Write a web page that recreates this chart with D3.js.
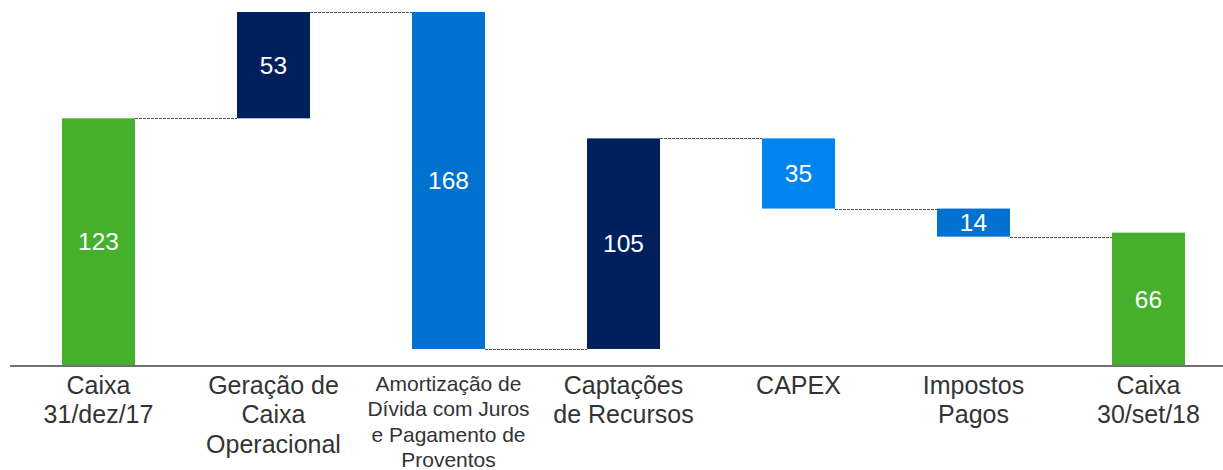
<!DOCTYPE html>
<html>
<head>
<meta charset="utf-8">
<script src="https://d3js.org/d3.v7.min.js"></script>
<style>
  body { margin: 0; background: #fff; font-family: "Liberation Sans", Arial, sans-serif; }
  svg { display: block; }
</style>
</head>
<body>
<script>
// categorias (quebra de linha com \n)
var categories = ["Caixa\n31/dez/17", "Geração de\nCaixa\nOperacional",
  "Amortização de\nDívida com Juros\ne Pagamento de\nProventos",
  "Captações\nde Recursos", "CAPEX", "Impostos\nPagos", "Caixa\n30/set/18"];
// valores: total, deltas, total
var values = [123, 53, -168, 105, -35, -14, 66];
var kinds = ["total", "up", "down", "up", "down", "down", "total"];
var colors = ["#45B02C", "#00205B", "#0071CE", "#00205B", "#0085F0", "#0071CE", "#45B02C"];
var smallLabel = [false, false, true, false, false, false, false];

var width = 1223, height = 470;
var svg = d3.select("body").append("svg").attr("width", width).attr("height", height);

var x = d3.scaleBand().domain(d3.range(categories.length))
  .range([11, 1236]).paddingInner(0.583).paddingOuter(0.2915);
var y = d3.scaleLinear().domain([0, 182]).range([365, 0]);

// monta as barras do waterfall
var level = 0;
var bars = values.map(function(v, i) {
  var b;
  if (kinds[i] == "total") { b = { lo: 0, hi: v }; level = v; }
  else { var nl = level + v; b = { lo: Math.min(level, nl), hi: Math.max(level, nl) }; level = nl; }
  b.i = i; b.v = v;
  b.end = level;
  return b;
});

// linhas tracejadas entre barras
for (var i = 0; i < bars.length - 1; i++) {
  var yy = Math.round(y(bars[i].end)) + 0.5;
  svg.append("line")
    .attr("x1", x(i) + x.bandwidth()).attr("x2", x(i + 1))
    .attr("y1", yy).attr("y2", yy)
    .attr("stroke", "#555").attr("stroke-width", 1)
    .attr("stroke-dasharray", "3,1");
}

svg.append("g").selectAll("rect").data(bars).enter().append("rect")
  .attr("x", function(d) { return x(d.i); })
  .attr("y", function(d) { return y(d.hi); })
  .attr("width", x.bandwidth())
  .attr("height", function(d) { return y(d.lo) - y(d.hi); })
  .attr("fill", function(d) { return colors[d.i]; });

svg.append("g").selectAll("text").data(bars).enter().append("text")
  .attr("x", function(d) { return x(d.i) + x.bandwidth() / 2; })
  .attr("y", function(d) { return (y(d.lo) + y(d.hi)) / 2; })
  .attr("dy", "0.36em")
  .attr("text-anchor", "middle")
  .attr("fill", "#fff").attr("font-size", "24.5px")
  .text(function(d) { return Math.abs(d.v); });

// eixo
svg.append("line").attr("x1", 10).attr("x2", width)
  .attr("y1", 366).attr("y2", 366)
  .attr("stroke", "#404040").attr("stroke-width", 1.5);

// rótulos das categorias
categories.forEach(function(c, i) {
  var small = smallLabel[i];
  var t = svg.append("text")
    .attr("x", x(i) + x.bandwidth() / 2)
    .attr("y", small ? 391 : 394)
    .attr("text-anchor", "middle")
    .attr("fill", "#333")
    .attr("font-size", small ? "21px" : "25px");
  c.split("\n").forEach(function(line, k) {
    t.append("tspan").attr("x", x(i) + x.bandwidth() / 2)
      .attr("dy", k == 0 ? 0 : (small ? 25.3 : 29.3)).text(line);
  });
});
</script>
</body>
</html>
